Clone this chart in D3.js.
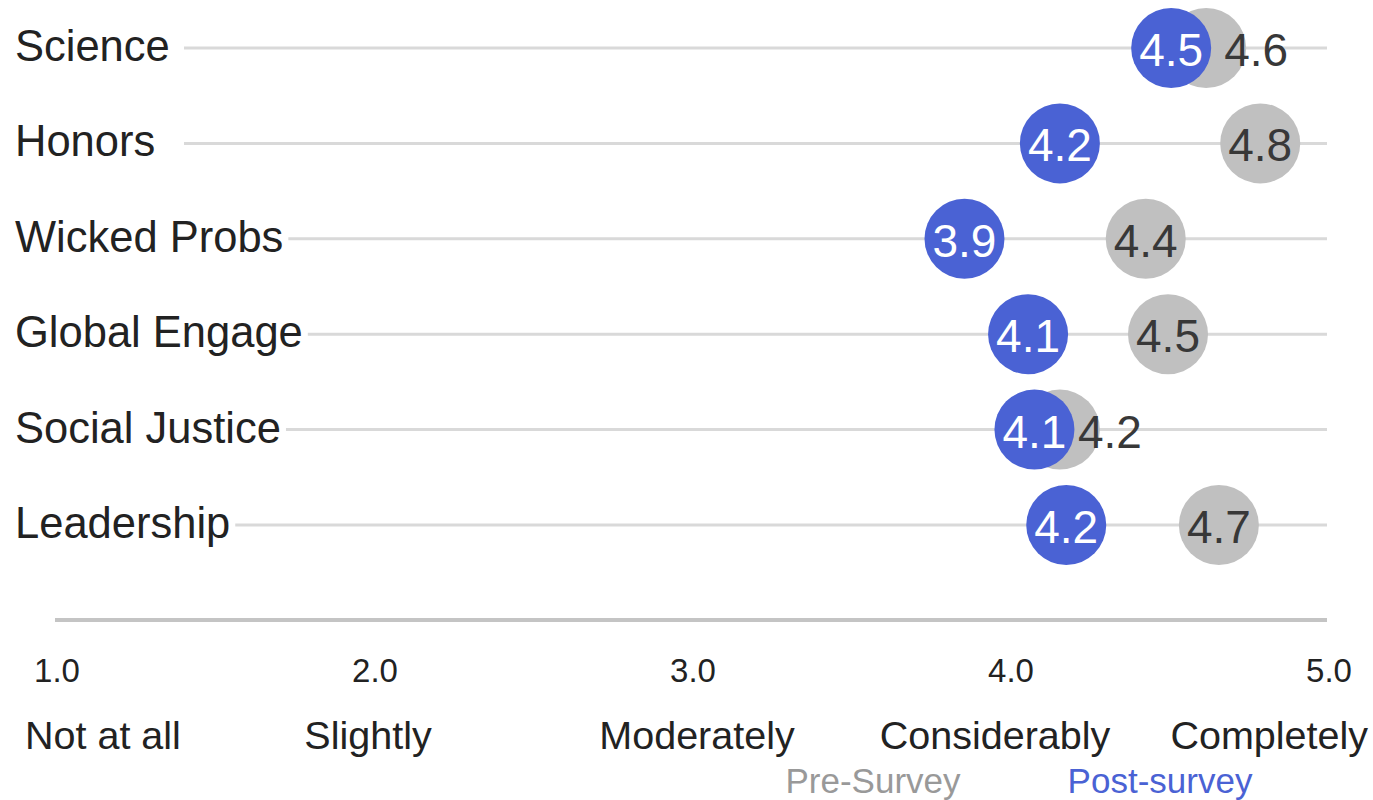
<!DOCTYPE html>
<html>
<head>
<meta charset="utf-8">
<script src="https://cdn.jsdelivr.net/npm/d3@7"></script>
<style>
  html, body { margin: 0; padding: 0; background: #fff; }
  svg { display: block; font-family: "Liberation Sans", Arial, sans-serif; }
</style>
</head>
<body>
<svg id="chart" width="1373" height="800"></svg>
<script>
// Survey categories, top to bottom
const categories = ["Science", "Honors", "Wicked Probs", "Global Engage", "Social Justice", "Leadership"];
// Mean ratings per category (1 = Not at all … 5 = Completely)
const preSurvey  = [4.62, 4.79, 4.43, 4.50, 4.16, 4.66];
const postSurvey = [4.51, 4.16, 3.86, 4.06, 4.08, 4.18];
// Axis ticks and their verbal anchors
const tickValues = [1, 2, 3, 4, 5];
const tickWords  = ["Not at all", "Slightly", "Moderately", "Considerably", "Completely"];
const seriesNames = ["Pre-Survey", "Post-survey"];

const PRE = "#c0c0c0", POST = "#4a62d4";
const R = 40;
const fmt = d3.format(".1f");

const svg = d3.select("#chart");

const x = d3.scaleLinear().domain([1, 5]).range([55, 1327]);
const y = d3.scalePoint().domain(categories).range([48, 525]);

// Category labels
const catLabels = svg.append("g").selectAll("text")
  .data(categories).join("text")
  .attr("x", 15)
  .attr("y", d => y(d) - 2)
  .attr("dominant-baseline", "central")
  .attr("font-size", 43.5)
  .attr("fill", "#222")
  .text(d => d);

// Row guide lines, starting just after each label
const lineStarts = [];
catLabels.each(function() {
  const b = this.getBBox();
  lineStarts.push(Math.max(184, b.x + b.width + 5));
});
svg.append("g").selectAll("line")
  .data(categories).join("line")
  .attr("x1", (d, i) => lineStarts[i])
  .attr("x2", x(5))
  .attr("y1", d => y(d))
  .attr("y2", d => y(d))
  .attr("stroke", "#d9d9d9")
  .attr("stroke-width", 3);

// Baseline axis
const axisY = 620;
svg.append("line")
  .attr("x1", x(1)).attr("x2", x(5))
  .attr("y1", axisY).attr("y2", axisY)
  .attr("stroke", "#c4c4c4")
  .attr("stroke-width", 4);

// Numeric tick labels
svg.append("g").selectAll("text")
  .data(tickValues).join("text")
  .attr("x", d => x(d) + 2)
  .attr("y", 670)
  .attr("text-anchor", "middle")
  .attr("dominant-baseline", "central")
  .attr("font-size", 33)
  .attr("fill", "#222")
  .text(d => fmt(d));

// Verbal tick labels: outer ones kept inside the frame, inner ones centred under their tick
const last = tickWords.length - 1;
svg.append("g").selectAll("text")
  .data(tickWords).join("text")
  .attr("x", (d, i) => i === 0 ? x(tickValues[i]) - 30 : i === last ? x(tickValues[i]) + 41 : x(tickValues[i]) + [0, -5, 6, -14][i])
  .attr("y", 735)
  .attr("text-anchor", (d, i) => i === 0 ? "start" : i === last ? "end" : "middle")
  .attr("dominant-baseline", "central")
  .attr("font-size", 39.5)
  .attr("fill", "#222")
  .text(d => d);

// Legend
svg.append("g").selectAll("text")
  .data(seriesNames).join("text")
  .attr("x", (d, i) => [873, 1160][i])
  .attr("y", 780)
  .attr("text-anchor", "middle")
  .attr("dominant-baseline", "central")
  .attr("font-size", 35)
  .attr("fill", (d, i) => i === 0 ? "#999" : POST)
  .text(d => d);

const rows = categories.map((c, i) => ({ c, pre: preSurvey[i], post: postSurvey[i] }));

// Pre-survey dots
svg.append("g").selectAll("circle")
  .data(rows).join("circle")
  .attr("cx", d => x(d.pre))
  .attr("cy", d => y(d.c))
  .attr("r", R)
  .attr("fill", PRE);

// Post-survey dots
svg.append("g").selectAll("circle")
  .data(rows).join("circle")
  .attr("cx", d => x(d.post))
  .attr("cy", d => y(d.c))
  .attr("r", R)
  .attr("fill", POST);

// Pre-survey value labels: moved right (and a little down when almost fully hidden)
// whenever the post dot covers the pre dot
const gap = d => x(d.pre) - x(d.post);
const covered = d => Math.abs(gap(d)) < 2 * R;
svg.append("g").selectAll("text")
  .data(rows).join("text")
  .attr("x", d => covered(d) ? x(d.pre) + 50 : x(d.pre))
  .attr("y", d => y(d.c) + 2 + (covered(d) && Math.abs(gap(d)) < 25 ? 10 : 0))
  .attr("text-anchor", "middle")
  .attr("dominant-baseline", "central")
  .attr("font-size", 46)
  .attr("fill", "#383838")
  .text(d => fmt(d.pre));

// Post-survey value labels
svg.append("g").selectAll("text")
  .data(rows).join("text")
  .attr("x", d => x(d.post))
  .attr("y", d => y(d.c) + 2)
  .attr("text-anchor", "middle")
  .attr("dominant-baseline", "central")
  .attr("font-size", 46)
  .attr("fill", "#fff")
  .text(d => fmt(d.post));
</script>
</body>
</html>
